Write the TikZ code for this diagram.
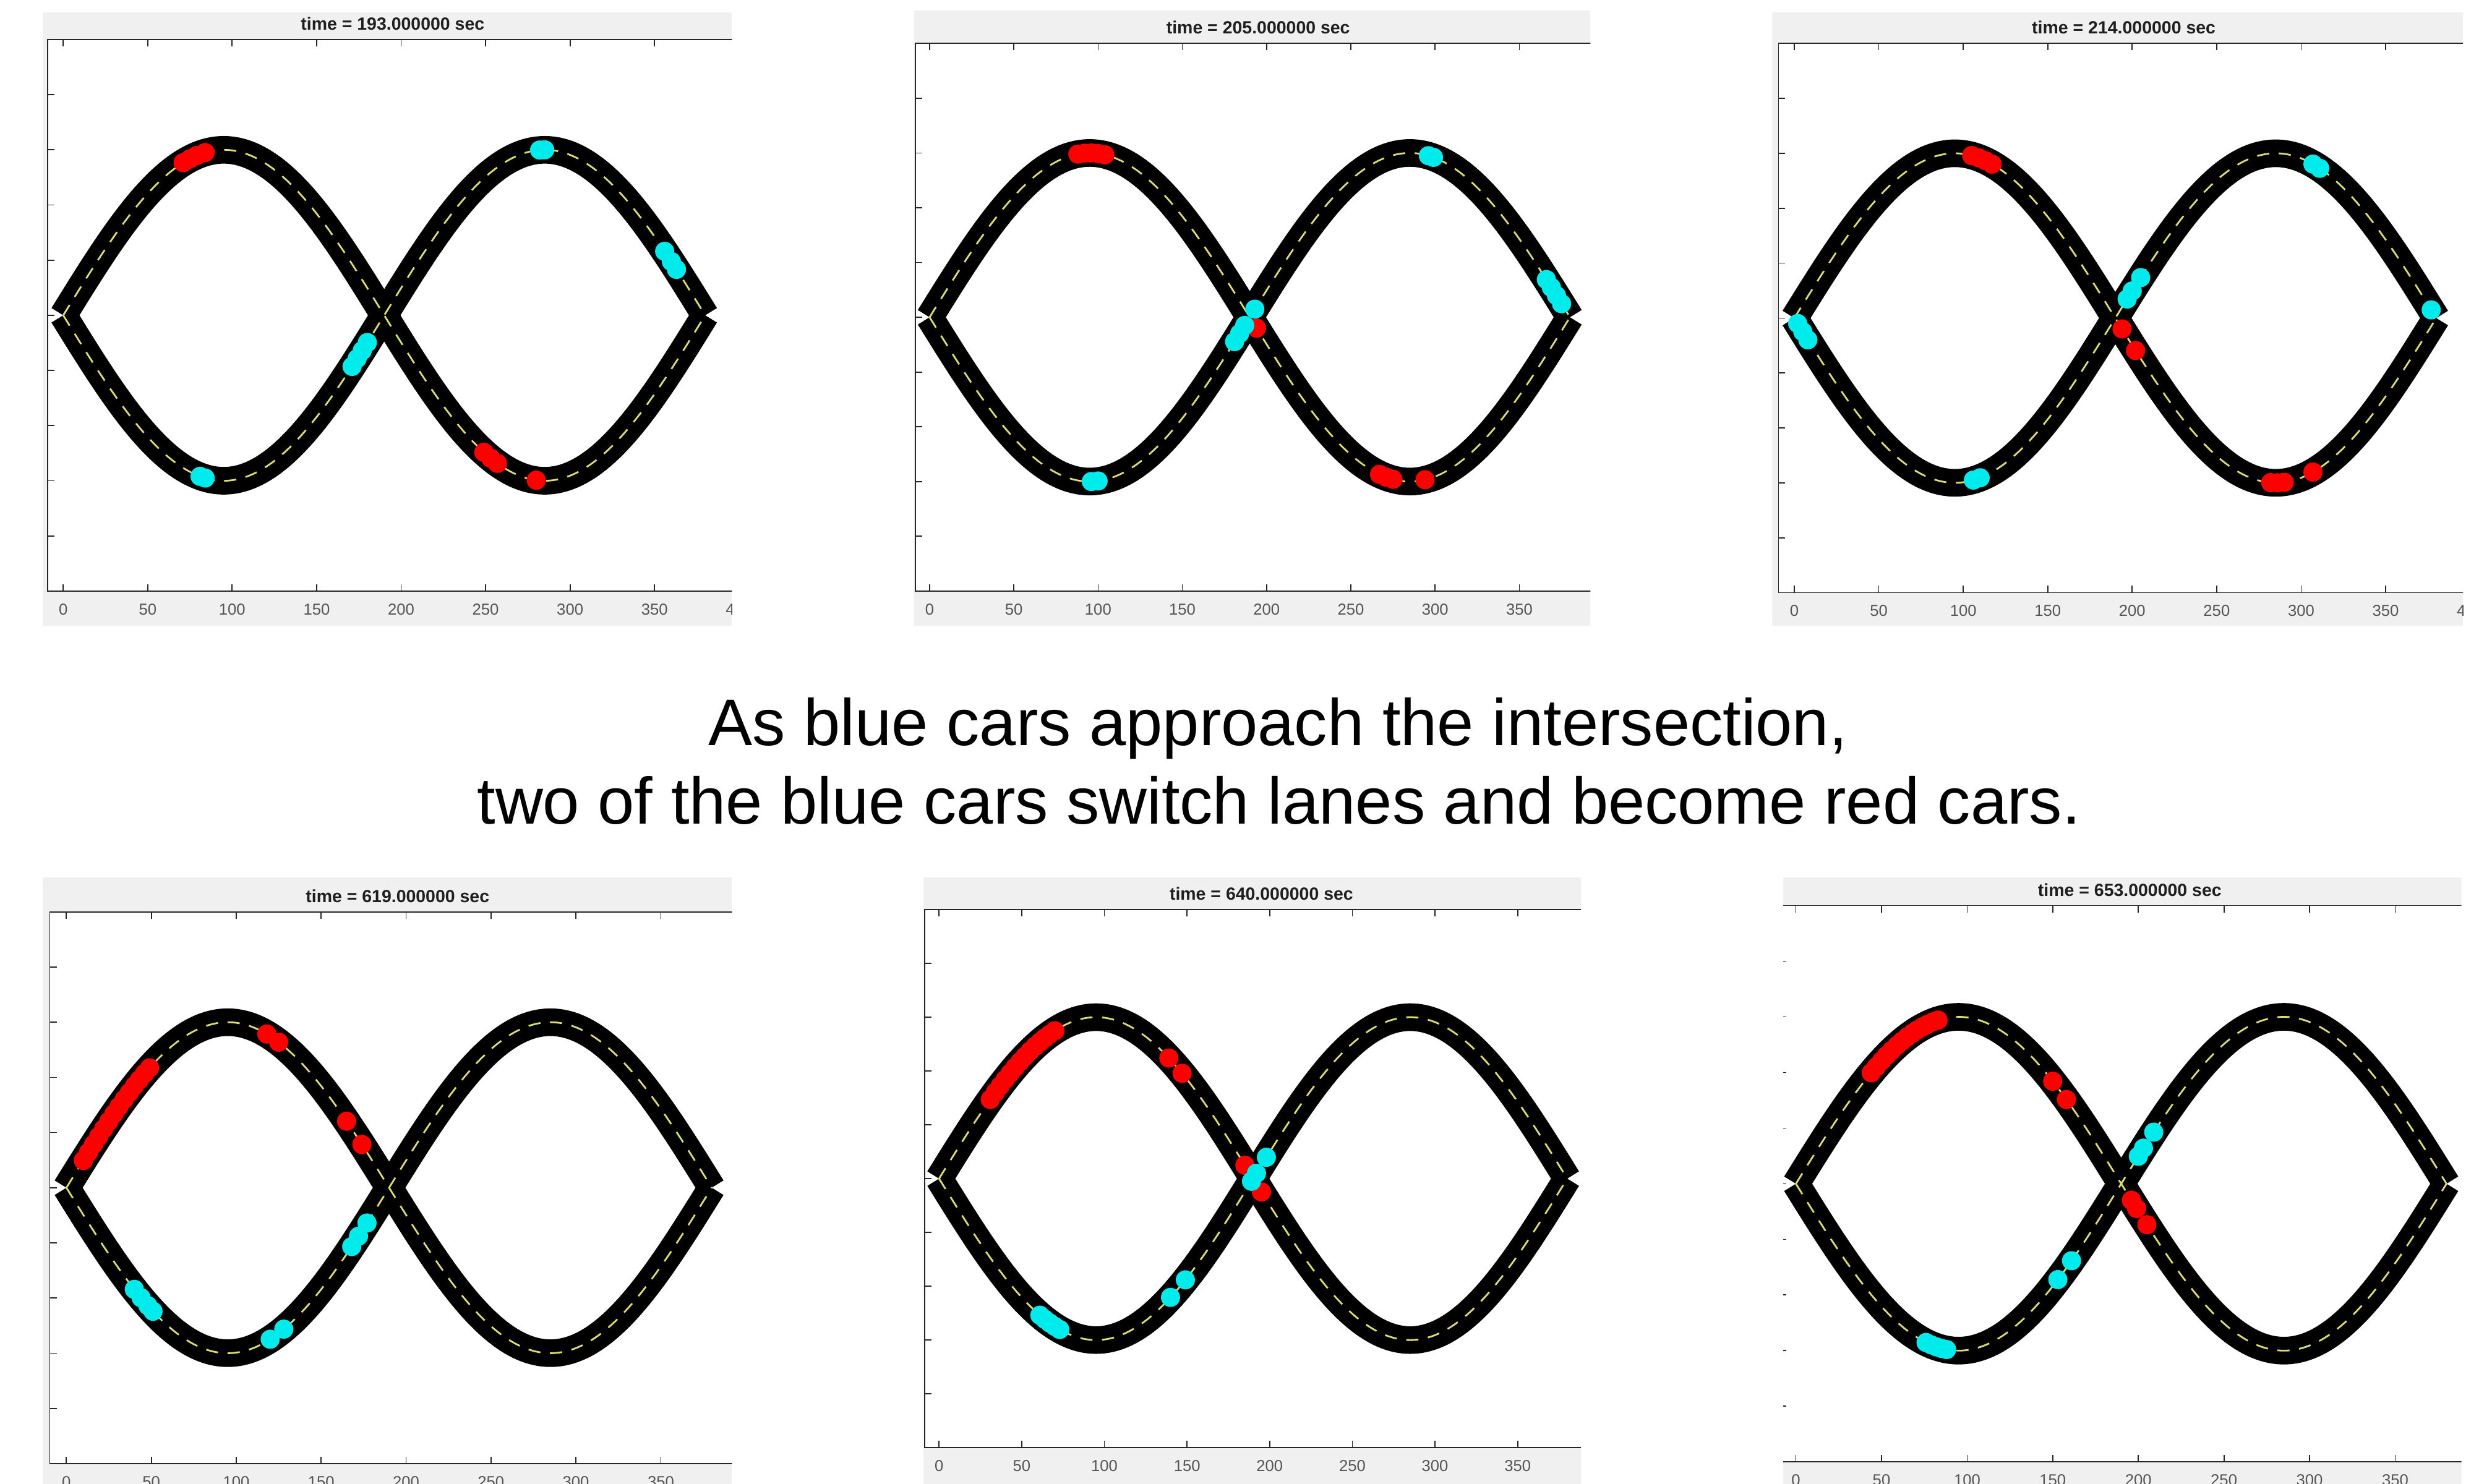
\documentclass[tikz,border=0pt]{standalone}
\usepackage{fontspec}
\setmainfont{Liberation Sans}
\definecolor{figbg}{RGB}{240,240,240}
\definecolor{axc}{RGB}{38,38,38}
\definecolor{tickc}{RGB}{85,85,85}
\definecolor{lanec}{RGB}{222,222,110}
\definecolor{carred}{RGB}{255,0,0}
\definecolor{carcyan}{RGB}{0,236,236}
\tikzset{
 axline/.style={draw=axc, line width=0.5pt},
 road/.style={draw=black, line width=12.7pt, line cap=butt, line join=round},
 lane/.style={draw=lanec, line width=0.8pt, dash pattern=on 5.6pt off 4.4pt},
 ticklab/.style={anchor=base, text=tickc, font=\fontsize{7.3}{8}\selectfont, inner sep=0pt},
 titlelab/.style={anchor=base, text=black!88, font=\bfseries\fontsize{8.1}{9}\selectfont, inner sep=0pt},
 caption/.style={anchor=base, text=black, font=\fontsize{30.3}{36}\selectfont, inner sep=0pt},
 redcar/.style={fill=carred},
 cyancar/.style={fill=carcyan},
}
% panel frame: uses \pGL \pGR \pGT \pGB \pAL \pAT \pAB \pXO \pSX \pID
\newcommand\panelframe{%
 \pgfmathsetmacro\pYC{(\pAT+\pAB)/2}%
 \pgfmathsetmacro\pAMP{0.3*(\pAB-\pAT)}%
 \pgfmathsetmacro\pAR{\pXO+400*\pSX}%
 \fill[figbg] (\pGL,\pGT) rectangle (\pGR,\pGB);
 \fill[white] (\pAL,\pAT) rectangle (\pAR,\pAB);
 \draw[axline] (\pAL,\pAT) rectangle (\pAR,\pAB);
 \foreach \v in {0,50,...,400}{%
   \pgfmathsetmacro\xx{\pXO+\pSX*\v}%
   \draw[axline] (\xx,\pAT) -- ++(0,4.3);
   \draw[axline] (\xx,\pAB) -- ++(0,-4.3);
   \node[ticklab] (tick\pID-\v) at (\xx,\pAB+15) {\v};
 }
 \foreach \f in {1,...,9}{%
   \pgfmathsetmacro\yy{\pAT+(\pAB-\pAT)*\f/10}%
   \draw[axline] (\pAL,\yy) -- ++(4.3,0);
   \draw[axline] (\pAR,\yy) -- ++(-4.3,0);
 }
 \node[titlelab] (title\pID) at ({\pXO+195*\pSX},\pAT-6) {time = \pT.000000 sec};
 \foreach \s/\sty in {1/road,-1/road,1/lane,-1/lane}{%
   \draw[\sty] (\pXO,\pYC) sin ({\pXO+95*\pSX},{\pYC-\s*\pAMP}) cos ({\pXO+190*\pSX},\pYC)
     sin ({\pXO+285*\pSX},{\pYC+\s*\pAMP}) cos ({\pXO+380*\pSX},\pYC);
 }
}
\newcommand\cars[3]{%
 \foreach \cu in {#3}{%
   \fill[#2] ({\pXO+\pSX*\cu},{\pYC-(#1)*\pAMP*sin(\cu/190*180)}) circle[radius=4.4pt];
 }%
}
\begin{document}
\begin{tikzpicture}[x={(0.025561cm,0cm)}, y={(0cm,-0.025561cm)}]
\fill[white] (0,0) rectangle (1568.1,938.6);
\useasboundingbox (0,0) rectangle (1568.1,938.6);

% ---------- panel 1 ----------
\begin{scope}
\def\pID{1}\def\pT{193}
\def\pGL{27}\def\pGR{463}\def\pGT{7.7}\def\pGB{396}
\def\pAL{30}\def\pAT{25}\def\pAB{374}\def\pXO{40}\def\pSX{1.0686}
\clip (\pGL,\pGT) rectangle (\pGR,\pGB);
\panelframe
\cars{1}{redcar}{71,75,79,84,249,253,257,280}
\cars{-1}{cyancar}{282,285,356,360,363,171,174,177,180,81,84}
\end{scope}

% ---------- panel 2 ----------
\begin{scope}
\def\pID{2}\def\pT{205}
\def\pGL{578}\def\pGR{1006}\def\pGT{6.5}\def\pGB{396}
\def\pAL{579}\def\pAT{27.5}\def\pAB{374}\def\pXO{588}\def\pSX{1.066}
\clip (\pGL,\pGT) rectangle (\pGR,\pGB);
\panelframe
\cars{1}{redcar}{88,92,96,100,104,194,267,271,275,294}
\cars{-1}{cyancar}{296,299,366,369,372,375,193,181,184,187,96,100}
\end{scope}

% ---------- panel 3 ----------
\begin{scope}
\def\pID{3}\def\pT{214}
\def\pGL{1121}\def\pGR{1558}\def\pGT{7.7}\def\pGB{396}
\def\pAL{1125}\def\pAT{27.5}\def\pAB{375}\def\pXO{1135}\def\pSX{1.0686}
\clip (\pGL,\pGT) rectangle (\pGR,\pGB);
\panelframe
\cars{1}{redcar}{105,109,113,117,194,202,282,286,290,307}
\cars{-1}{cyancar}{307,311,197,200,205,377,2,5,8,106,110}
\end{scope}

% ---------- panel 4 ----------
\begin{scope}
\def\pID{4}\def\pT{619}
\def\pGL{27}\def\pGR{463}\def\pGT{555}\def\pGB{940}
\def\pAL{31.5}\def\pAT{577}\def\pAB{926}\def\pXO{42}\def\pSX{1.0743}
\clip (\pGL,\pGT) rectangle (\pGR,\pGB);
\panelframe
\cars{1}{redcar}{10,13,16,19,22,25,28,31,34,37,40,43,46,49,118,125,165,174}
\cars{-1}{cyancar}{168,172,177,40,44,48,51,120,128}
\end{scope}

% ---------- panel 5 ----------
\begin{scope}
\def\pID{5}\def\pT{640}
\def\pGL{584}\def\pGR{1000}\def\pGT{555}\def\pGB{940}
\def\pAL{585}\def\pAT{575.5}\def\pAB{916}\def\pXO{594}\def\pSX{1.0457}
\clip (\pGL,\pGT) rectangle (\pGR,\pGB);
\panelframe
\cars{1}{redcar}{31,34,37,40,43,46,49,52,55,58,61,64,67,70,139,147,185,195}
\cars{-1}{cyancar}{198,189,192,140,149,61,64,67,70,73}
\end{scope}

% ---------- panel 6 ----------
\begin{scope}
\def\pID{6}\def\pT{653}
\def\pGL{1128}\def\pGR{1557}\def\pGT{555}\def\pGB{940}
\def\pAL{1125.5}\def\pAT{573}\def\pAB{925}\def\pXO{1136}\def\pSX{1.083}
\clip (\pGL,\pGT) rectangle (\pGR,\pGB);
\panelframe
\cars{1}{redcar}{44,47,50,53,56,59,62,65,68,71,74,77,80,83,150,158,196,199,205}
\cars{-1}{cyancar}{200,203,209,153,161,76,79,82,85,88}
\end{scope}

% ---------- caption ----------
\node[caption] (cap1) at (808.5,471.5) {As blue cars approach the intersection,};
\node[caption] (cap2) at (809,521.5) {two of the blue cars switch lanes and become red cars.};
\end{tikzpicture}
\end{document}
